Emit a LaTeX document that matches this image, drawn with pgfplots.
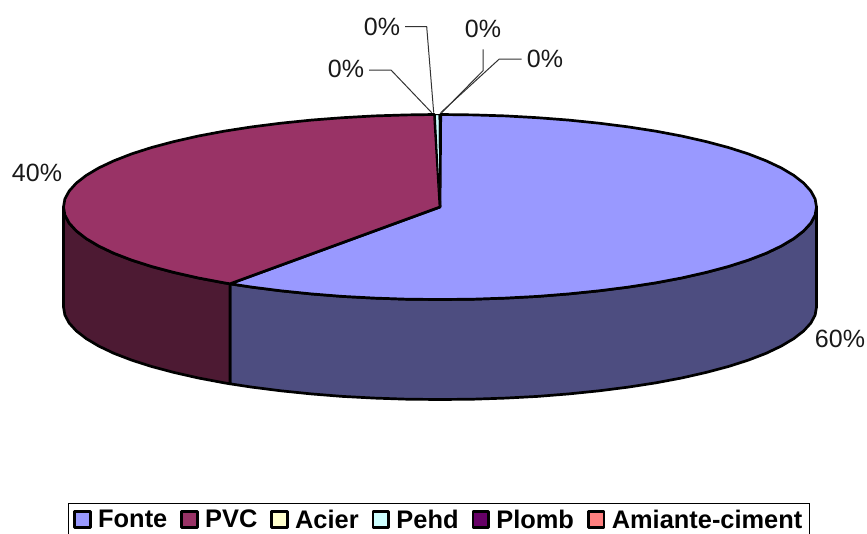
\documentclass[border=0pt]{standalone}
\usepackage{fontspec}
\setmainfont{Liberation Sans}
\usepackage{pgfplots}
\pgfplotsset{compat=1.18}
\definecolor{cFonte}{HTML}{9999FF}
\definecolor{cPVC}{HTML}{993366}
\definecolor{cAcier}{HTML}{FFFFCC}
\definecolor{cPehd}{HTML}{CCFFFF}
\definecolor{cPlomb}{HTML}{660066}
\definecolor{cAmiante}{HTML}{FF8080}
\definecolor{sFonte}{HTML}{4D4D80}
\definecolor{sPVC}{HTML}{4D1A33}
\definecolor{leader}{HTML}{333333}
\begin{document}
\begin{tikzpicture}[x=1pt,y=1pt]
\useasboundingbox (0,0) rectangle (867,533);
\clip (0,0) rectangle (867,533);
\begin{axis}[
  at={(0,0)},anchor=south west,
  scale only axis,width=867pt,height=533pt,
  xmin=0,xmax=867,ymin=0,ymax=533,y dir=reverse,
  hide axis,clip=false,
  legend columns=6,
  legend cell align=left,
  legend image code/.code={\draw[#1,line width=2.8pt] (0pt,-8pt) rectangle (15.5pt,8pt);},
  legend style={at={(68/867,1-503/533)},anchor=north west,draw=black,line width=0.8pt,
    font=\bfseries\fontsize{25.4}{30}\selectfont,inner xsep=5pt,inner ysep=4.5pt,
    nodes={inner xsep=2pt,inner ysep=2pt},
    /tikz/every even column/.style={column sep=11pt},
    /tikz/every odd column/.style={column sep=4.5pt}},
]
% side of the Fonte slice
\addplot[forget plot,fill=sFonte,draw=black,line width=2.7pt,line join=round] coordinates {
(816.5,207)(815.1,215.1)(810.8,223.1)(803.7,230.9)(793.8,238.6)(781.2,246.1)(766.1,253.3)(748.4,260.1)(728.4,266.5)(706.2,272.4)(682.0,277.9)(656.0,282.8)(628.3,287.1)(599.1,290.8)(568.8,293.9)(537.5,296.4)(505.4,298.1)(472.8,299.2)(440,299.5)(407.2,299.2)(374.6,298.1)(342.5,296.4)(311.2,293.9)(280.9,290.8)(251.7,287.1)(230,283.8)
(230,383.8)(251.7,387.1)(280.9,390.8)(311.2,393.9)(342.5,396.4)(374.6,398.1)(407.2,399.2)(440,399.5)(472.8,399.2)(505.4,398.1)(537.5,396.4)(568.8,393.9)(599.1,390.8)(628.3,387.1)(656.0,382.8)(682.0,377.9)(706.2,372.4)(728.4,366.5)(748.4,360.1)(766.1,353.3)(781.2,346.1)(793.8,338.6)(803.7,330.9)(810.8,323.1)(815.1,315.1)(816.5,307)
} -- cycle;
% side of the PVC slice
\addplot[forget plot,fill=sPVC,draw=black,line width=2.7pt,line join=round] coordinates {
(230,283.8)(224.0,282.8)(198.0,277.9)(173.8,272.4)(151.6,266.5)(131.6,260.1)(113.9,253.3)(98.8,246.1)(86.2,238.6)(76.3,230.9)(69.2,223.1)(64.9,215.1)(63.5,207)
(63.5,307)(64.9,315.1)(69.2,323.1)(76.3,330.9)(86.2,338.6)(98.8,346.1)(113.9,353.3)(131.6,360.1)(151.6,366.5)(173.8,372.4)(198.0,377.9)(224.0,382.8)(230,383.8)
} -- cycle;
% top: Fonte
\addplot[fill=cFonte,draw=black,line width=2.7pt,line join=round] coordinates {
(440,207)(440.7,114.5)(472.8,114.9)(505.4,115.9)(537.5,117.7)(568.8,120.1)(599.1,123.2)(628.3,126.9)(656.0,131.2)(682.0,136.1)(706.2,141.6)(728.4,147.5)(748.4,153.9)(766.1,160.8)(781.2,167.9)(793.8,175.4)(803.7,183.1)(810.8,191.0)(815.1,198.9)(816.5,207)
(815.1,215.1)(810.8,223.1)(803.7,230.9)(793.8,238.6)(781.2,246.1)(766.1,253.3)(748.4,260.1)(728.4,266.5)(706.2,272.4)(682.0,277.9)(656.0,282.8)(628.3,287.1)(599.1,290.8)(568.8,293.9)(537.5,296.4)(505.4,298.1)(472.8,299.2)(440,299.5)(407.2,299.2)(374.6,298.1)(342.5,296.4)(311.2,293.9)(280.9,290.8)(251.7,287.1)(230,283.8)
} -- cycle;
\addlegendentry{Fonte}
% top: PVC
\addplot[fill=cPVC,draw=black,line width=2.7pt,line join=round] coordinates {
(440,207)(230,283.8)(224.0,282.8)(198.0,277.9)(173.8,272.4)(151.6,266.5)(131.6,260.1)(113.9,253.3)(98.8,246.1)(86.2,238.6)(76.3,230.9)(69.2,223.1)(64.9,215.1)(63.5,207)
(64.9,198.9)(69.2,191.0)(76.3,183.1)(86.2,175.4)(98.8,167.9)(113.9,160.8)(131.6,153.9)(151.6,147.5)(173.8,141.6)(198.0,136.1)(224.0,131.2)(251.7,126.9)(280.9,123.2)(311.2,120.1)(342.5,117.7)(374.6,115.9)(407.2,114.9)(434.5,114.5)
} -- cycle;
\addlegendentry{PVC}
% top: the four thin slices
\addplot[fill=cAcier,draw=black,line width=1pt,line join=round] coordinates {(440,207)(434.5,114.5)(435.2,114.5)} -- cycle;
\addlegendentry{Acier}
\addplot[fill=cPehd,draw=black,line width=1pt,line join=round] coordinates {(440,207)(435.2,114.5)(439.2,114.5)} -- cycle;
\addlegendentry{Pehd}
\addplot[fill=cPlomb,draw=black,line width=1pt,line join=round] coordinates {(440,207)(439.2,114.5)(440,114.5)} -- cycle;
\addlegendentry{Plomb}
\addplot[fill=cAmiante,draw=black,line width=1pt,line join=round] coordinates {(440,207)(440,114.5)(440.7,114.5)} -- cycle;
\addlegendentry{Amiante-ciment\hspace{8pt}}
% leader lines
\addplot[forget plot,leader,line width=1pt] coordinates {(369,70)(391,70)(431.7,112.7)};
\addplot[forget plot,leader,line width=1pt] coordinates {(405,26.7)(426.7,26.7)(433.7,112.7)};
\addplot[forget plot,leader,line width=1pt] coordinates {(483,49.3)(483,70.7)(441.7,112.7)};
\addplot[forget plot,leader,line width=1pt] coordinates {(521.7,59)(499.3,59)(440.7,112.7)};
% labels
\begin{scope}[every node/.style={font=\fontsize{25}{30}\selectfont,inner sep=0pt,text=black!90}]
\node at (axis cs:346,69) {0\%};
\node at (axis cs:382,26.5) {0\%};
\node at (axis cs:483,29) {0\%};
\node at (axis cs:545,59) {0\%};
\node at (axis cs:37,173) {40\%};
\node at (axis cs:840,339) {60\%};
\end{scope}
\end{axis}
\end{tikzpicture}
\end{document}
